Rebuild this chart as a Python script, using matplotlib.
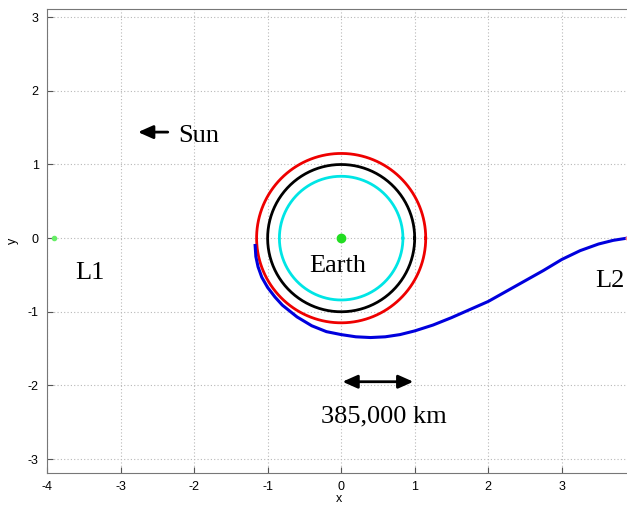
import numpy as np
import matplotlib.pyplot as plt

plt.rcParams["axes.unicode_minus"] = False

# orbit radii (in units of Earth-Moon distance)
radius_red = 1.15
radius_black = 1.0
radius_cyan = 0.84

# transfer trajectory
traj_x = [-1.17, -1.16, -1.13, -1.08, -1.0, -0.9, -0.8, -0.6, -0.4, -0.2, 0.0, 0.2, 0.4, 0.6,
          0.8, 1.0, 1.25, 1.5, 1.75, 2.0, 2.25, 2.5, 2.75, 3.0, 3.25, 3.5, 3.7, 3.89]
traj_y = [-0.10, -0.25, -0.39, -0.53, -0.67, -0.80, -0.91, -1.07, -1.19, -1.27, -1.31, -1.34, -1.35, -1.34,
          -1.31, -1.26, -1.18, -1.08, -0.97, -0.86, -0.72, -0.58, -0.44, -0.29, -0.17, -0.08, -0.03, 0.0]

earth_pos = (0, 0)
l1_pos = (-3.9, 0)

fig = plt.figure(figsize=(6.27, 5.07), dpi=100)
ax = fig.add_axes([0.075, 0.067, 0.93, 0.915])

t = np.linspace(0, 2 * np.pi, 400)
ax.plot(radius_cyan * np.cos(t), radius_cyan * np.sin(t), color="#00e5e5", lw=2)
ax.plot(radius_black * np.cos(t), radius_black * np.sin(t), color="black", lw=2)
ax.plot(radius_red * np.cos(t), radius_red * np.sin(t), color="#ee0000", lw=2)
ax.plot(traj_x, traj_y, color="#0000dd", lw=2.2, solid_joinstyle="round")
ax.plot(traj_x[-1], traj_y[-1], "o", color="#ff8080", ms=2)

ax.plot(*earth_pos, "o", color="#22dd22", ms=6)
ax.plot(*l1_pos, "o", color="#66ee66", ms=3)

serif = "Liberation Serif"
ax.text(-0.04, -0.38, "Earth", fontsize=19, family=serif, ha="center", va="center")
ax.text(-3.42, -0.48, "L1", fontsize=19, family=serif, ha="center", va="center")
ax.text(3.86, -0.58, "L2", fontsize=19, family=serif, ha="right", va="center")
ax.text(-2.22, 1.39, "Sun", fontsize=19, family=serif, ha="left", va="center")
ax.text(0.58, -2.42, "385,000 km", fontsize=19, family=serif, ha="center", va="center")

ax.annotate("", xy=(-2.8, 1.44), xytext=(-2.32, 1.44),
            arrowprops=dict(arrowstyle="-|>,head_length=0.9,head_width=0.4", color="black", lw=2))
ax.annotate("", xy=(-0.02, -1.95), xytext=(1.02, -1.95),
            arrowprops=dict(arrowstyle="<|-|>,head_length=0.9,head_width=0.4", color="black", lw=2))

ax.set_xlim(-4, 3.93)
ax.set_ylim(-3.19, 3.11)
ax.set_xticks([-4, -3, -2, -1, 0, 1, 2, 3])
ax.set_yticks([-3, -2, -1, 0, 1, 2, 3])
ax.grid(True, linestyle=(0, (1, 2)), color="#b8b8b8", lw=0.8)
ax.tick_params(direction="in", length=4, labelsize=9, color="#555555", pad=6)
for lbl in ax.get_xticklabels() + ax.get_yticklabels():
    lbl.set_family("Liberation Sans")
for s in ax.spines.values():
    s.set_color("#777777")
ax.set_xlabel("x", fontsize=9, family="Liberation Sans", labelpad=0)
ax.set_ylabel("y", fontsize=9, family="Liberation Sans", labelpad=6)

fig.savefig("out.png")
